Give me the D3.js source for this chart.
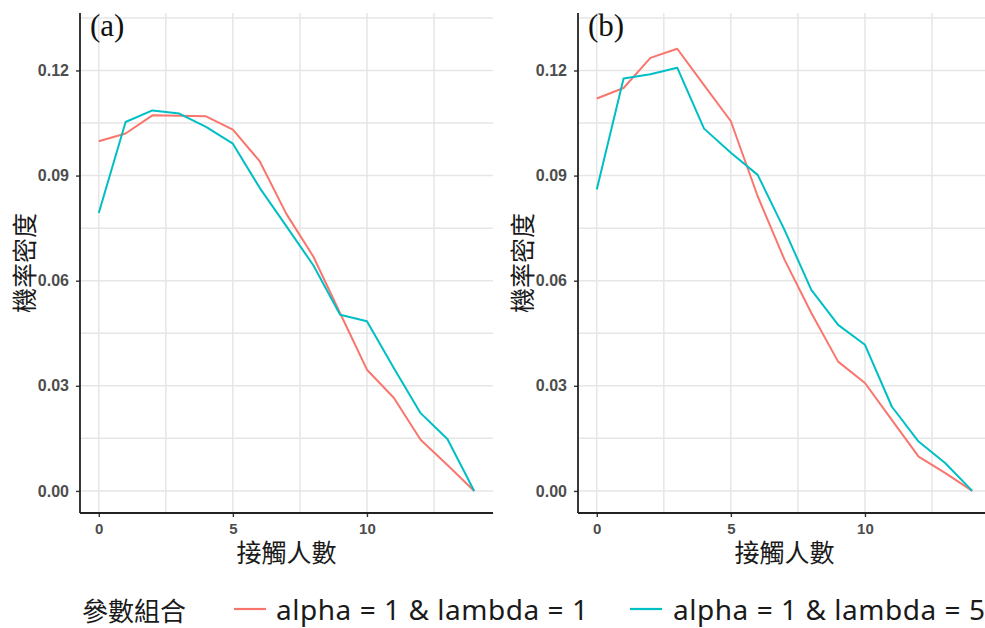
<!DOCTYPE html>
<html>
<head>
<meta charset="utf-8">
<script src="https://cdn.jsdelivr.net/npm/d3@7"></script>
<style>
  html, body { margin: 0; padding: 0; background: #fff; }
  svg { display: block; }
</style>
</head>
<body>
<svg id="chart" width="985" height="628"></svg>
<script>
// Contact counts on the x axis
const contacts = [0, 1, 2, 3, 4, 5, 6, 7, 8, 9, 10, 11, 12, 13, 14];

// Density for alpha = 1 & lambda = 1
const panelA_l1 = [0.0998, 0.1020, 0.1072, 0.1071, 0.1069, 0.1031, 0.0941, 0.0790, 0.0669, 0.0507, 0.0346, 0.0266, 0.0146, 0.0074, 0.0000];
const panelB_l1 = [0.1120, 0.1150, 0.1236, 0.1262, 0.1158, 0.1055, 0.0841, 0.0660, 0.0508, 0.0369, 0.0308, 0.0203, 0.0098, 0.0051, 0.0000];

// Density for alpha = 1 & lambda = 5
const panelA_l5 = [0.0793, 0.1053, 0.1086, 0.1077, 0.1039, 0.0991, 0.0865, 0.0755, 0.0644, 0.0503, 0.0484, 0.0351, 0.0222, 0.0148, 0.0000];
const panelB_l5 = [0.0860, 0.1177, 0.1189, 0.1208, 0.1034, 0.0965, 0.0902, 0.0745, 0.0574, 0.0474, 0.0417, 0.0241, 0.0141, 0.0079, 0.0000];

const panelLabels = ["(a)", "(b)"];
const seriesNames = ["alpha = 1 & lambda = 1", "alpha = 1 & lambda = 5"];
const seriesColors = ["#F8766D", "#00BFC4"];
const xMajorTicks = [0, 5, 10];
const xMinorTicks = [2.5, 7.5, 12.5];
const yMajorTicks = [0, 0.03, 0.06, 0.09, 0.12];
const yMinorTicks = [0.015, 0.045, 0.075, 0.105, 0.135];
const xTitle = "接觸人數";
const yTitle = "機率密度";
const legendTitle = "參數組合";

const panels = [
  { label: panelLabels[0], series: [panelA_l1, panelA_l5], left: 80 },
  { label: panelLabels[1], series: [panelB_l1, panelB_l5], left: 578 }
];

const svg = d3.select("#chart");
const panelWidth = 413;
const plotTop = 13, plotBottom = 513;
const cjk = "'Noto Sans CJK TC', 'Noto Sans CJK SC', sans-serif";
const tickFont = "'Liberation Sans', Arial, sans-serif";

const y = d3.scaleLinear().domain([-0.0063, 0.1364]).range([plotBottom, plotTop]);

panels.forEach(p => {
  const x = d3.scaleLinear().domain([-0.7, 14.7]).range([p.left, p.left + panelWidth]);
  const g = svg.append("g");

  // grid
  const grid = g.append("g").attr("stroke", "#e6e6e6").attr("stroke-width", 1.5);
  yMajorTicks.concat(yMinorTicks).forEach(v => {
    grid.append("line").attr("x1", p.left).attr("x2", p.left + panelWidth)
      .attr("y1", y(v)).attr("y2", y(v));
  });
  xMajorTicks.concat(xMinorTicks).forEach(v => {
    grid.append("line").attr("x1", x(v)).attr("x2", x(v))
      .attr("y1", plotTop).attr("y2", plotBottom);
  });

  // series lines
  const line = d3.line().x((d, i) => x(contacts[i])).y(d => y(d));
  p.series.forEach((s, k) => {
    g.append("path").datum(s)
      .attr("fill", "none")
      .attr("stroke", seriesColors[k])
      .attr("stroke-width", 2)
      .attr("stroke-linejoin", "round")
      .attr("d", line);
  });

  // axes
  const xAxis = d3.axisBottom(x).tickValues(xMajorTicks).tickSize(4).tickPadding(6).tickFormat(d3.format("d"));
  const yAxis = d3.axisLeft(y).tickValues(yMajorTicks).tickSize(4).tickPadding(7).tickFormat(d3.format(".2f"));

  const gx = g.append("g").attr("transform", `translate(0,${plotBottom})`).call(xAxis);
  const gy = g.append("g").attr("transform", `translate(${p.left},0)`).call(yAxis);
  [gx, gy].forEach(ax => {
    ax.select(".domain").remove();
    ax.selectAll(".tick line").attr("stroke", "#333").attr("stroke-width", 1.4);
    ax.selectAll(".tick text")
      .attr("fill", "#4d4d4d")
      .style("font-family", tickFont)
      .style("font-weight", "bold")
      .style("font-size", "16px");
  });
  gx.selectAll(".tick text").style("font-size", "15px");

  // axis lines
  g.append("line").attr("x1", p.left).attr("x2", p.left + panelWidth)
    .attr("y1", plotBottom).attr("y2", plotBottom)
    .attr("stroke", "#222").attr("stroke-width", 1.8);
  g.append("line").attr("x1", p.left).attr("x2", p.left)
    .attr("y1", plotTop).attr("y2", plotBottom)
    .attr("stroke", "#222").attr("stroke-width", 1.8);

  // titles
  g.append("text")
    .attr("x", p.left + panelWidth / 2).attr("y", 551)
    .attr("text-anchor", "middle").attr("dominant-baseline", "central")
    .style("font-family", cjk).style("font-size", "25px").attr("fill", "#1a1a1a")
    .text(xTitle);
  g.append("text")
    .attr("transform", `translate(${p.left - 57},${263}) rotate(-90)`)
    .attr("text-anchor", "middle").attr("dominant-baseline", "central")
    .style("font-family", cjk).style("font-size", "25px").attr("fill", "#1a1a1a")
    .text(yTitle);

  // panel tag
  g.append("text")
    .attr("x", p.left + 10).attr("y", 36)
    .style("font-family", "'Liberation Serif', 'Times New Roman', serif")
    .style("font-size", "31px").attr("fill", "#111")
    .text(p.label);
});

// legend
const legendY = 609;
const legend = svg.append("g");
legend.append("text")
  .attr("x", 82).attr("y", legendY)
  .attr("dominant-baseline", "central")
  .style("font-family", cjk).style("font-size", "26px").attr("fill", "#1a1a1a")
  .text(legendTitle);

const keyStarts = [234, 630];
const textStarts = [276, 673];
seriesNames.forEach((name, k) => {
  legend.append("line")
    .attr("x1", keyStarts[k]).attr("x2", keyStarts[k] + 32)
    .attr("y1", legendY).attr("y2", legendY)
    .attr("stroke", seriesColors[k]).attr("stroke-width", 2.2);
  legend.append("text")
    .attr("x", textStarts[k]).attr("y", legendY)
    .attr("dominant-baseline", "central")
    .attr("textLength", 312).attr("lengthAdjust", "spacing")
    .style("font-family", "'Noto Sans', 'Open Sans', sans-serif")
    .style("font-size", "28px").attr("fill", "#1a1a1a")
    .text(name);
});
</script>
</body>
</html>
